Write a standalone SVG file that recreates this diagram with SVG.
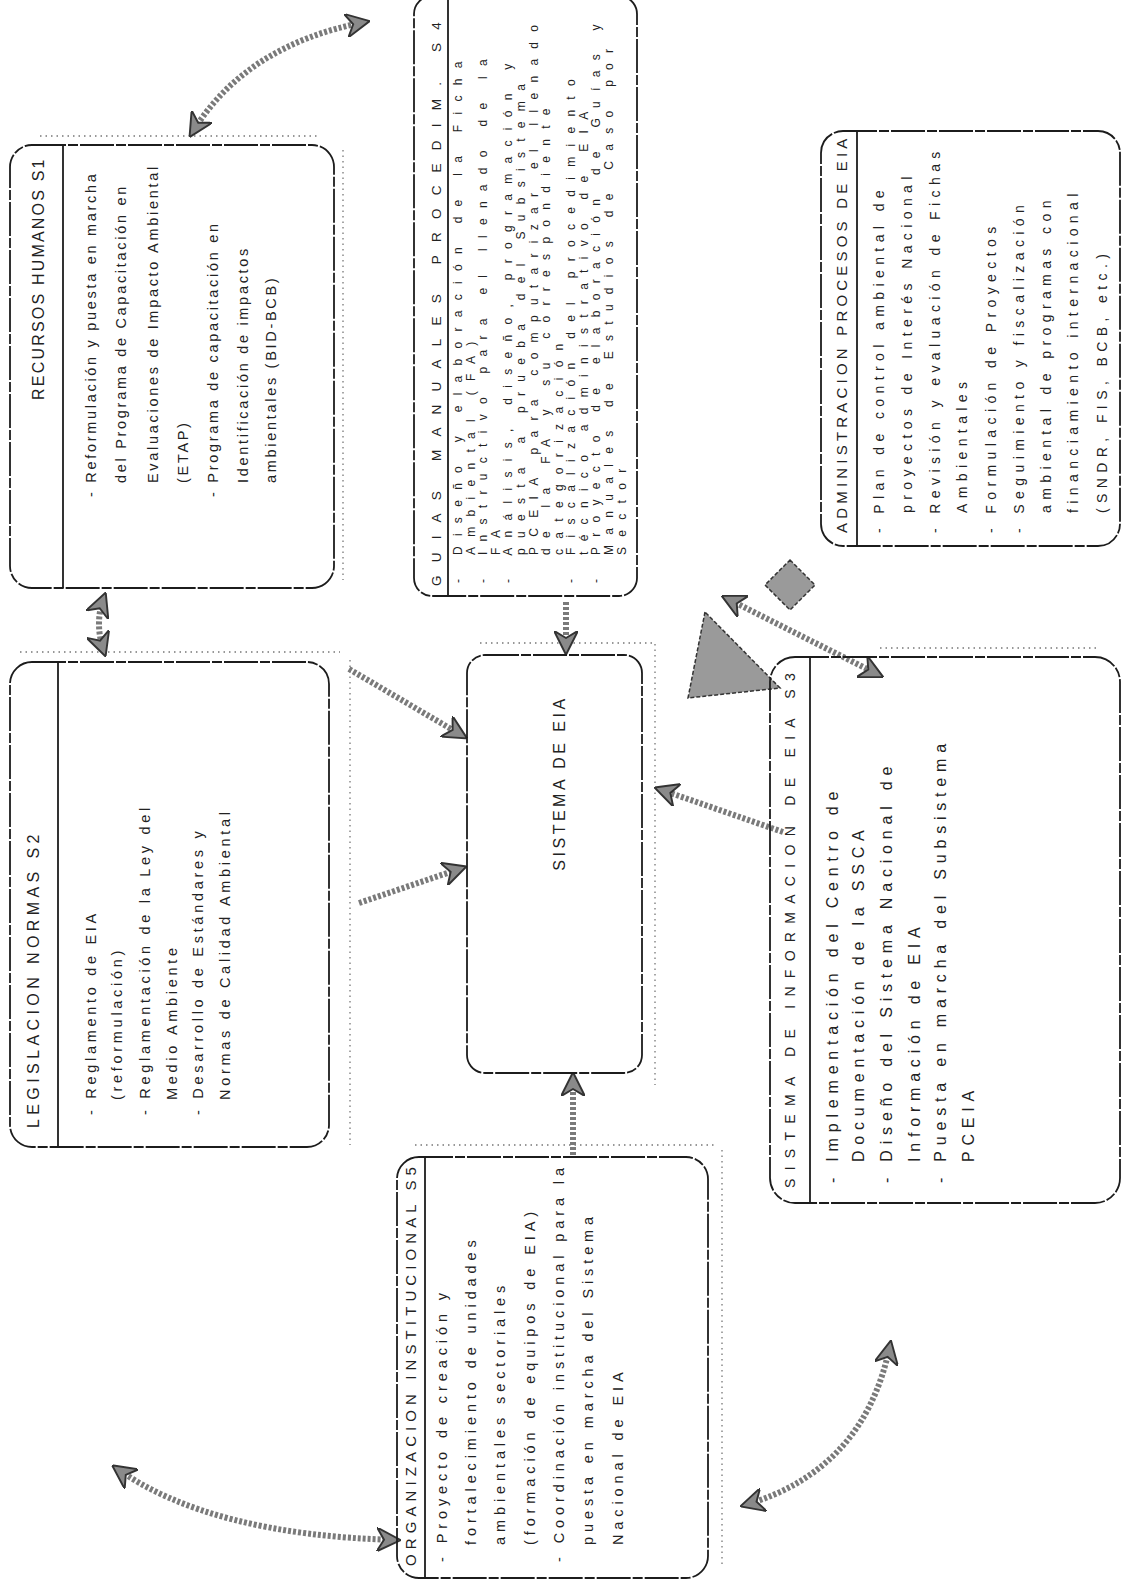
<svg xmlns="http://www.w3.org/2000/svg" width="1128" height="1585" viewBox="0 0 1128 1585">
<defs>
<style>
.box{fill:none;stroke:#1c1c1c;stroke-width:1.8;stroke-dasharray:34 2 10 2}
.dv{stroke:#1c1c1c;stroke-width:1.8}
.sh{fill:none;stroke:#777;stroke-width:1.3;stroke-dasharray:1.5 4}
text{font-family:"Liberation Sans",Arial,sans-serif;fill:#222;dominant-baseline:central}
.t1{font-size:16px;letter-spacing:2.2px}
.b1{font-size:14.5px;letter-spacing:2.7px}
.t2{font-size:16px;letter-spacing:4.4px}
.b2{font-size:14.5px;letter-spacing:3.7px}
.t5{font-size:15px;letter-spacing:5.1px}
.b5{font-size:14.5px;letter-spacing:4.9px}
.t4{font-size:13.5px;letter-spacing:13.2px}
.b4{font-size:12px;letter-spacing:10.3px}
.ta{font-size:15px;letter-spacing:4.2px}
.ba{font-size:14px;letter-spacing:5.4px}
.t3{font-size:14px;letter-spacing:8.3px}
.b3{font-size:16px;letter-spacing:5.8px}
.tc{font-size:16px;letter-spacing:3.5px}
.arr{fill:none;stroke:#7a7a7a;stroke-width:6;stroke-dasharray:3 2}
.blob{fill:#9a9a9a;stroke:#333;stroke-width:1.5;stroke-dasharray:4 2}
</style>
<marker id="ah" viewBox="0 0 10 10" refX="8" refY="5" markerWidth="4" markerHeight="4" orient="auto-start-reverse">
<path d="M0,0 L10,5 L0,10 L3,5 z" fill="#8a8a8a" stroke="#333" stroke-width="0.8"/>
</marker>
</defs>
<rect width="1128" height="1585" fill="#fff"/>

<g id="shadows">
<path class="sh" d="M40 136 H320 M343 150 V580"/>
<path class="sh" d="M20 652 H340 M350 660 V1145"/>
<path class="sh" d="M480 643 H655 V1085"/>
<path class="sh" d="M415 1145 H715 M722 1150 V1565"/>
<path class="sh" d="M880 648 H1100"/>
</g>

<g id="connectors">
<path class="arr" d="M192 133 Q245 45 365 22" marker-start="url(#ah)" marker-end="url(#ah)"/>
<path class="arr" d="M104 597 Q94 623 104 652" marker-start="url(#ah)" marker-end="url(#ah)"/>
<path class="arr" d="M349 669 L463 736" marker-end="url(#ah)"/>
<path class="arr" d="M359 903 L462 868" marker-end="url(#ah)"/>
<path class="arr" d="M566 602 L566 650" marker-end="url(#ah)"/>
<path class="arr" d="M573 1155 L573 1077" marker-end="url(#ah)"/>
<path class="arr" d="M783 832 L659 789" marker-end="url(#ah)"/>
<path class="arr" d="M726 598 L879 675" marker-start="url(#ah)" marker-end="url(#ah)"/>
<path class="arr" d="M116 1468 Q210 1535 396 1540" marker-start="url(#ah)" marker-end="url(#ah)"/>
<path class="arr" d="M745 1505 Q865 1470 890 1345" marker-start="url(#ah)" marker-end="url(#ah)"/>
<polygon class="blob" points="705,612 688,698 780,688"/>
<polygon class="blob" points="790,560 815,585 790,610 765,585"/>
</g>

<g id="s1">
<rect class="box" x="10" y="145" width="324" height="443" rx="22"/>
<line class="dv" x1="63" y1="145" x2="63" y2="588"/>
<text class="t1" transform="translate(38,400) rotate(-90)">RECURSOS HUMANOS S1</text>
<text class="b1" transform="translate(91,497) rotate(-90)">- Reformulación y puesta en marcha</text>
<text class="b1" transform="translate(121,483) rotate(-90)">del Programa de Capacitación en</text>
<text class="b1" transform="translate(153,483) rotate(-90)">Evaluaciones de Impacto Ambiental</text>
<text class="b1" transform="translate(183,483) rotate(-90)">(ETAP)</text>
<text class="b1" transform="translate(213,497) rotate(-90)">- Programa de capacitación en</text>
<text class="b1" transform="translate(243,483) rotate(-90)">Identificación de impactos</text>
<text class="b1" transform="translate(271,483) rotate(-90)">ambientales (BID-BCB)</text>
</g>

<g id="s2">
<rect class="box" x="10" y="662" width="319" height="485" rx="22"/>
<line class="dv" x1="58" y1="662" x2="58" y2="1147"/>
<text class="t2" transform="translate(33,1128) rotate(-90)">LEGISLACION NORMAS S2</text>
<text class="b2" transform="translate(91,1115) rotate(-90)">- Reglamento de EIA</text>
<text class="b2" transform="translate(117,1100) rotate(-90)">(reformulación)</text>
<text class="b2" transform="translate(145,1115) rotate(-90)">- Reglamentación de la Ley del</text>
<text class="b2" transform="translate(172,1100) rotate(-90)">Medio Ambiente</text>
<text class="b2" transform="translate(198,1115) rotate(-90)">- Desarrollo de Estándares y</text>
<text class="b2" transform="translate(225,1100) rotate(-90)">Normas de Calidad Ambiental</text>
</g>

<g id="s5">
<rect class="box" x="397" y="1157" width="311" height="421" rx="22"/>
<line class="dv" x1="425" y1="1157" x2="425" y2="1578"/>
<text class="t5" transform="translate(410,1566) rotate(-90)">ORGANIZACION INSTITUCIONAL S5</text>
<text class="b5" transform="translate(442,1562) rotate(-90)">- Proyecto de creación y</text>
<text class="b5" transform="translate(471,1545) rotate(-90)">fortalecimiento de unidades</text>
<text class="b5" transform="translate(500,1545) rotate(-90)">ambientales sectoriales</text>
<text class="b5" transform="translate(530,1545) rotate(-90)">(formación de equipos de EIA)</text>
<text class="b5" transform="translate(559,1562) rotate(-90)">- Coordinación institucional para la</text>
<text class="b5" transform="translate(588,1545) rotate(-90)">puesta en marcha del Sistema</text>
<text class="b5" transform="translate(618,1545) rotate(-90)">Nacional de EIA</text>
</g>

<g id="s4">
<rect class="box" x="414" y="-4" width="223" height="600" rx="18"/>
<line class="dv" x1="448" y1="0" x2="448" y2="596"/>
<text class="t4" transform="translate(436,586) rotate(-90)">GUIAS MANUALES PROCEDIM. S4</text>
<text class="b4" transform="translate(458,583) rotate(-90)">- Diseño y elaboración de la Ficha</text>
<text class="b4" transform="translate(470.5,555) rotate(-90)">Ambiental (FA)</text>
<text class="b4" transform="translate(483,583) rotate(-90)">- Instructivo para el llenado de la</text>
<text class="b4" transform="translate(495.5,555) rotate(-90)">FA</text>
<text class="b4" transform="translate(508,583) rotate(-90)">- Análisis, diseño, programación y</text>
<text class="b4" transform="translate(521,555) rotate(-90)">puesta a prueba del Subsistema</text>
<text class="b4" transform="translate(533.5,555) rotate(-90)">PCEIA para computarizar el llenado</text>
<text class="b4" transform="translate(546,555) rotate(-90)">de la FA y su correspondiente</text>
<text class="b4" transform="translate(558.5,555) rotate(-90)">categorización</text>
<text class="b4" transform="translate(571,583) rotate(-90)">- Fiscalización del procedimiento</text>
<text class="b4" transform="translate(583.5,555) rotate(-90)">técnico administrativo de EIA</text>
<text class="b4" transform="translate(596,583) rotate(-90)">- Proyecto de elaboración de Guías y</text>
<text class="b4" transform="translate(609,555) rotate(-90)">Manuales de Estudios de Caso por</text>
<text class="b4" transform="translate(621.5,555) rotate(-90)">Sector</text>
</g>

<g id="admin">
<rect class="box" x="821" y="131" width="299" height="415" rx="22"/>
<line class="dv" x1="857" y1="131" x2="857" y2="546"/>
<text class="ta" transform="translate(841,533) rotate(-90)">ADMINISTRACION PROCESOS DE EIA</text>
<text class="ba" transform="translate(879,533) rotate(-90)">- Plan de control ambiental de</text>
<text class="ba" transform="translate(907,513) rotate(-90)">proyectos de Interés Nacional</text>
<text class="ba" transform="translate(935,533) rotate(-90)">- Revisión y evaluación de Fichas</text>
<text class="ba" transform="translate(962,513) rotate(-90)">Ambientales</text>
<text class="ba" transform="translate(991,533) rotate(-90)">- Formulación de Proyectos</text>
<text class="ba" transform="translate(1019,533) rotate(-90)">- Seguimiento y fiscalización</text>
<text class="ba" transform="translate(1046,513) rotate(-90)">ambiental de programas con</text>
<text class="ba" transform="translate(1073,513) rotate(-90)">financiamiento internacional</text>
<text class="ba" transform="translate(1102,513) rotate(-90)">(SNDR, FIS, BCB, etc.)</text>
</g>

<g id="s3">
<rect class="box" x="770" y="657" width="350" height="546" rx="25"/>
<line class="dv" x1="810" y1="657" x2="810" y2="1203"/>
<text class="t3" transform="translate(790,1188) rotate(-90)">SISTEMA DE INFORMACION DE EIA S3</text>
<text class="b3" transform="translate(832,1183) rotate(-90)">- Implementación del Centro de</text>
<text class="b3" transform="translate(858,1162) rotate(-90)">Documentación de la SSCA</text>
<text class="b3" transform="translate(886,1183) rotate(-90)">- Diseño del Sistema Nacional de</text>
<text class="b3" transform="translate(914,1162) rotate(-90)">Información de EIA</text>
<text class="b3" transform="translate(940,1183) rotate(-90)">- Puesta en marcha del Subsistema</text>
<text class="b3" transform="translate(968,1162) rotate(-90)">PCEIA</text>
</g>

<g id="sistema">
<rect class="box" x="467" y="655" width="175" height="418" rx="18"/>
<text class="tc" text-anchor="middle" transform="translate(559,783) rotate(-90)">SISTEMA DE EIA</text>
</g>
</svg>
